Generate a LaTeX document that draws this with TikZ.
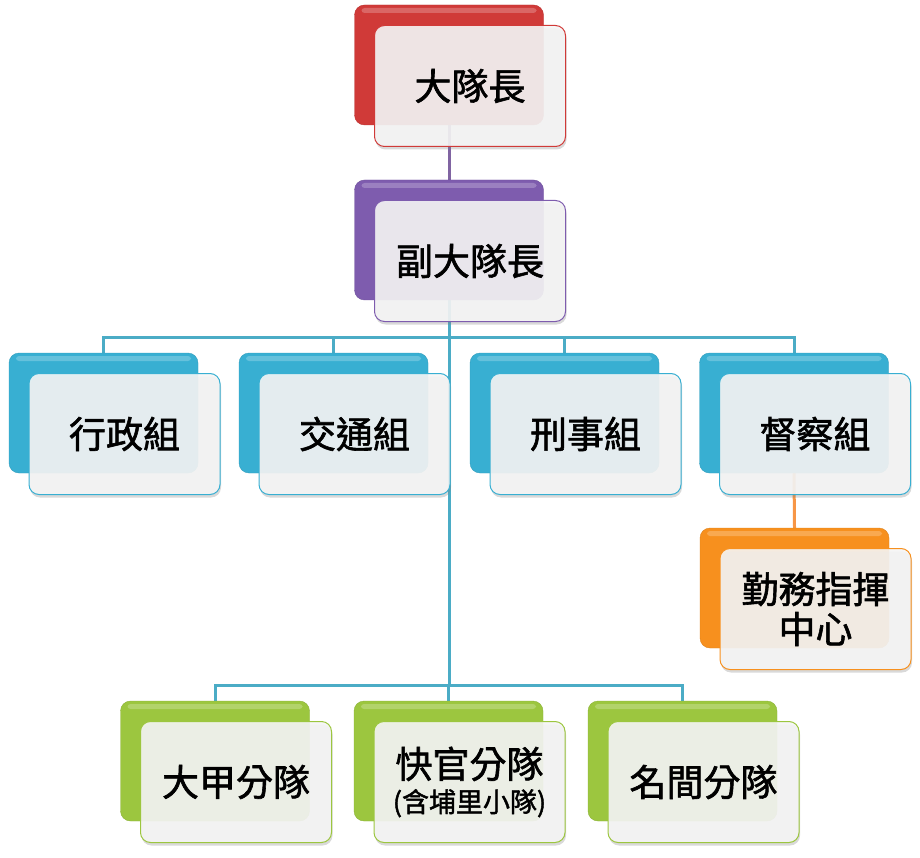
\documentclass[tikz,border=0pt]{standalone}
\usepackage{fontspec}
\newfontfamily\cjk[FakeBold=1.6]{Noto Sans CJK TC}
\usetikzlibrary{shadows,backgrounds}
\definecolor{chiefred}{HTML}{D03A38}
\definecolor{deputypurple}{HTML}{7E5CAE}
\definecolor{groupblue}{HTML}{38AFD2}
\definecolor{branchgreen}{HTML}{9CC63F}
\definecolor{centreorange}{HTML}{F7901E}
\definecolor{purpleline}{HTML}{8064A2}
\definecolor{blueline}{HTML}{4BACC6}
\definecolor{orangeline}{HTML}{F79646}

\begin{document}
\begin{tikzpicture}[x=1pt,y=-1pt,
    back/.style={rounded corners=10pt, minimum width=189pt, minimum height=120pt,
      draw=#1!90!black, fill=#1,
      path picture={\fill[#1!55!white, opacity=0.5, rounded corners=3pt]
        ([xshift=7pt,yshift=-3pt]path picture bounding box.north west) rectangle
        ([xshift=-7pt,yshift=-8pt]path picture bounding box.north east);}},
    front/.style={rounded corners=10pt, minimum width=191pt, minimum height=121pt,
      draw=#1, line width=1pt, fill=white!96!black, fill opacity=0.9, text opacity=1,
      drop shadow={shadow xshift=1pt, shadow yshift=-3pt, opacity=0.3},
      font={\cjk\fontsize{37}{40}\selectfont}, align=center},
    link/.style={line width=3pt, draw=#1}]
  \useasboundingbox (0,0) rectangle (920,858);
  % top of the tree
  \node[back=chiefred] (chief-b) at (449,65) {};
  \node[front=chiefred] (chief) at ([shift={(21,21)}]chief-b.center) {大隊長};
  \node[back=deputypurple] (deputy-b) at (449,240) {};
  \node[front=deputypurple] (deputy) at ([shift={(21,21)}]deputy-b.center) {副大隊長};
  % groups
  \node[back=groupblue] (admin-b) at (103.5,413) {};
  \node[front=groupblue] (admin) at ([shift={(21,21)}]admin-b.center) {行政組};
  \node[back=groupblue] (traffic-b) at (333.5,413) {};
  \node[front=groupblue] (traffic) at ([shift={(21,21)}]traffic-b.center) {交通組};
  \node[back=groupblue] (crime-b) at (564.5,413) {};
  \node[front=groupblue] (crime) at ([shift={(21,21)}]crime-b.center) {刑事組};
  \node[back=groupblue] (inspect-b) at (794,413) {};
  \node[front=groupblue] (inspect) at ([shift={(21,21)}]inspect-b.center) {督察組};
  \node[back=centreorange] (duty-b) at (794.5,588) {};
  \node[front=centreorange] (duty) at ([shift={(21,21)}]duty-b.center) {勤務指揮\\中心};
  % branches
  \node[back=branchgreen] (dajia-b) at (215,761) {};
  \node[front=branchgreen] (dajia) at ([shift={(21,21)}]dajia-b.center) {大甲分隊};
  \node[back=branchgreen] (kuaiguan-b) at (448.5,761) {};
  \node[front=branchgreen] (kuaiguan) at ([shift={(21,21)}]kuaiguan-b.center)
    {快官分隊\\[-6pt]{\fontsize{27}{30}\selectfont (含埔里小隊)}};
  \node[back=branchgreen] (mingjian-b) at (682.5,761) {};
  \node[front=branchgreen] (mingjian) at ([shift={(21,21)}]mingjian-b.center) {名間分隊};
  % connectors
  \begin{scope}[on background layer]
    \coordinate (bus1) at (449,337);
    \coordinate (bus2) at (449,685);
    \draw[link=purpleline] (chief-b.south) -- (deputy-b.north);
    \draw[link=blueline] (deputy-b.south) -- (bus2);
    \foreach \g in {admin,traffic,crime,inspect}
      \draw[link=blueline] (bus1) -| (\g-b.north);
    \foreach \b in {dajia,kuaiguan,mingjian}
      \draw[link=blueline] (bus2) -| (\b-b.north);
    \draw[link=orangeline] (inspect-b.south) -- (duty-b.north);
  \end{scope}
\end{tikzpicture}
\end{document}
